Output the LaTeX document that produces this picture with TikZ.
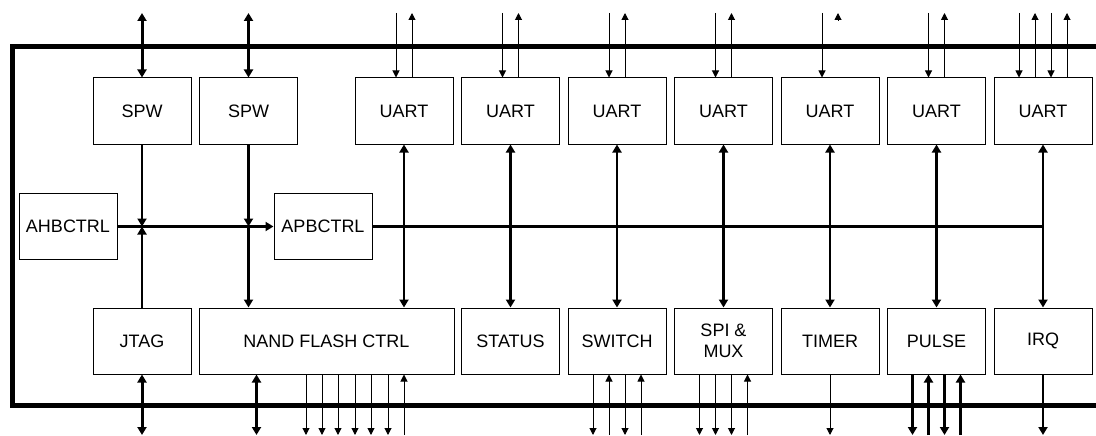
\documentclass[tikz,border=0pt]{standalone}
\usepackage{fontspec}
\setmainfont{Liberation Sans}
\usetikzlibrary{positioning,arrows.meta}

\begin{document}
\begin{tikzpicture}[x=1pt,y=-1pt,node distance=106.5pt,
  >={Triangle[length=7pt,width=7pt]},
  blk/.style={draw,rectangle,line width=1pt,minimum width=98pt,minimum height=66pt,
    align=center,font=\fontsize{18}{21}\selectfont},
  sig/.style={line width=1pt},
  bus/.style={line width=3pt,>={Triangle[length=8pt,width=9pt]}},
  vbus/.style={line width=2.5pt,>={Triangle[length=8pt,width=9pt]}}]
\useasboundingbox (0,0) rectangle (1096,436);
\coordinate (top) at (0,13);
\coordinate (bot) at (0,435);

% board outline
\draw[line width=5pt] (1096,46.5) -- (12,46.5) -- (12,405.5) -- (1096,405.5);

% upper row
\node[blk] (spw1) at (142,111) {SPW};
\node[blk,right of=spw1] (spw2) {SPW};
\node[blk,right of=spw2,xshift=49pt] (u1) {UART};
\node[blk,right of=u1] (u2) {UART};
\node[blk,right of=u2] (u3) {UART};
\node[blk,right of=u3] (u4) {UART};
\node[blk,right of=u4] (u5) {UART};
\node[blk,right of=u5] (u6) {UART};
\node[blk,right of=u6] (u7) {UART};

% lower row
\node[blk,below of=spw1,node distance=230pt] (jtag) {JTAG};
\node[blk,right of=jtag,xshift=78pt,minimum width=255pt] (nand) {NAND FLASH CTRL};
\node[blk,below of=u2,node distance=230pt] (status) {STATUS};
\node[blk,below of=u3,node distance=230pt] (switch) {SWITCH};
\node[blk,below of=u4,node distance=230pt] (spimux) {SPI \&\\MUX};
\node[blk,below of=u5,node distance=230pt] (timer) {TIMER};
\node[blk,below of=u6,node distance=230pt] (pulse) {PULSE};
\node[blk,below of=u7,node distance=230pt] (irq) {IRQ};

% bus controllers
\node[blk] (ahb) at (68,226.5) {AHBCTRL};
\node[blk] (apb) at (323,226.5) {APBCTRL};

% AHB / APB
\draw[bus,->] (ahb.east) -- (apb.west);
\draw[bus] (apb.east) -- (apb.east -| u7.south);
\draw[vbus,->] (spw1.south) -- (spw1.south |- ahb.east);
\draw[vbus,->] (jtag.north) -- (jtag.north |- ahb.east);
\draw[vbus,->] (spw2.south) -- (spw2.south |- ahb.east);
\draw[vbus,->] (spw2.south |- ahb.east) -- (spw2.south |- nand.north);
\foreach \a/\b in {u1/nand,u2/status,u3/switch,u4/spimux,u5/timer,u6/pulse,u7/irq}
  \draw[vbus,<->] (\a.south) -- (\a.south |- \b.north);

% pins, top
\draw[bus,<->] (spw1.north) -- (spw1.north |- top);
\draw[bus,<->] (spw2.north) -- (spw2.north |- top);
\foreach \n in {u1,u2,u3,u4,u6} {
  \draw[sig,->] ([xshift=-8pt]\n.north |- top) -- ([xshift=-8pt]\n.north);
  \draw[sig,->] ([xshift=8pt]\n.north) -- ([xshift=8pt]\n.north |- top);
}
\draw[sig,->] ([xshift=-8pt]u5.north |- top) -- ([xshift=-8pt]u5.north);
\draw[sig,->] ([xshift=8pt,yshift=-7pt]u5.north |- top) -- ([xshift=8pt]u5.north |- top);
\foreach \dx in {-24,8}
  \draw[sig,->] ([xshift=\dx pt]u7.north |- top) -- ([xshift=\dx pt]u7.north);
\foreach \dx in {-8,24}
  \draw[sig,->] ([xshift=\dx pt]u7.north) -- ([xshift=\dx pt]u7.north |- top);

% pins, bottom
\draw[bus,<->] (jtag.south) -- (jtag.south |- bot);
\draw[bus,<->] ([xshift=-70pt]nand.south) -- ([xshift=-70pt]nand.south |- bot);
\foreach \dx in {-98,-82,-66,-49,-33,-16}
  \draw[sig,->] ([xshift=\dx pt]u1.south |- nand.south) -- ([xshift=\dx pt]u1.south |- bot);
\draw[sig,->] (u1.south |- bot) -- (u1.south |- nand.south);
\foreach \dx in {-24,8} {
  \draw[sig,->] ([xshift=\dx pt]switch.south) -- ([xshift=\dx pt]switch.south |- bot);
  \draw[vbus,->] ([xshift=\dx pt]pulse.south) -- ([xshift=\dx pt]pulse.south |- bot);
}
\foreach \dx in {-8,24} {
  \draw[sig,->] ([xshift=\dx pt]switch.south |- bot) -- ([xshift=\dx pt]switch.south);
  \draw[vbus,->] ([xshift=\dx pt]pulse.south |- bot) -- ([xshift=\dx pt]pulse.south);
}
\foreach \dx in {-24,-8,8}
  \draw[sig,->] ([xshift=\dx pt]spimux.south) -- ([xshift=\dx pt]spimux.south |- bot);
\draw[sig,->] ([xshift=24pt]spimux.south |- bot) -- ([xshift=24pt]spimux.south);
\draw[sig,->] (timer.south) -- (timer.south |- bot);
\draw[vbus,->] (irq.south) -- (irq.south |- bot);
\end{tikzpicture}
\end{document}
